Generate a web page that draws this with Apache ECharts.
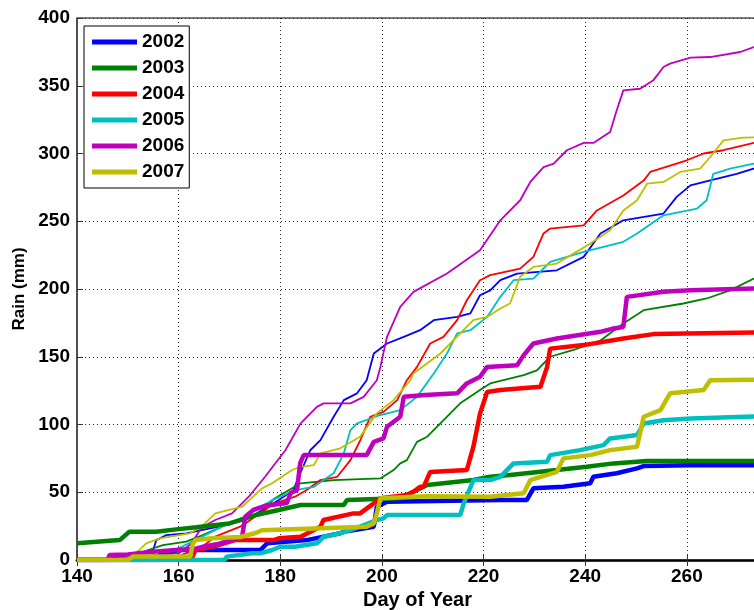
<!DOCTYPE html>
<html>
<head>
<meta charset="utf-8">
<script src="https://cdn.jsdelivr.net/npm/echarts@6/dist/echarts.min.js"></script>
<style>
html,body{margin:0;padding:0;background:#fff;}
#chart{width:754px;height:610px;}
</style>
</head>
<body>
<div id="chart"></div>
<script>
// ---- data: [day of year, cumulative rain (mm)] ----
const years = ['2002', '2003', '2004', '2005', '2006', '2007'];
const yearColors = ['#0000ff', '#008000', '#ff0000', '#00bfbf', '#bf00bf', '#bfbf00'];
const xTicks = [140, 160, 180, 200, 220, 240, 260];
const yTicks = [0, 50, 100, 150, 200, 250, 300, 350, 400];

const thin2002 = [[145,0],[152,5],[155,7.4],[155.6,14.7],[157.6,18.4],[161.5,19.7],[164.5,22],[167.9,24.6],[173.1,29.5],[177,38],[179.7,44.2],[182.6,51.6],[183.9,64],[185.9,81],[187.9,88.5],[190.5,105.7],[192.5,118],[195.1,123],[197,132.7],[198.4,152.4],[201,159.8],[204.3,164.7],[207.5,169.6],[210.2,177],[214.8,179.4],[217.4,182],[219.3,195.4],[221.3,199],[223.3,206.5],[226.6,211.4],[234.4,213.8],[239.7,223.7],[243,241],[247.5,250.7],[255.4,255.7],[258,268],[260.7,276.5],[264.6,280.2],[269.8,285],[275,291]];
const thin2003 = [[150,0],[153,6.1],[156.9,11],[161.5,13.5],[164.5,18],[167,22],[169.8,27],[176.4,34.4],[178.7,45],[184,56.6],[190.5,59],[199.7,60.2],[202.3,66.4],[203.6,71.3],[204.9,73.7],[206.9,87.2],[208.9,91],[211.5,100.8],[215.4,115.6],[219.3,125.4],[221.3,130.3],[227.9,136.4],[230.5,140],[233.1,150],[237.7,155],[243,162],[247.5,174.6],[251.5,184.4],[259.3,189.3],[263.9,193],[268.5,199],[273.2,207.7],[275,210]];
const thin2004 = [[148,0],[160,3],[163.3,7.4],[164.6,9.8],[167.2,17.2],[172.1,24.6],[173.1,27],[176.1,34.6],[179,42],[182.9,46.7],[185.2,51.6],[187.9,59],[191.2,61.4],[193.8,73.7],[195.7,88],[197.7,105.7],[200.3,109.3],[203,118],[204.9,132.7],[206.9,142.5],[209.5,159.8],[212.1,164.7],[214.8,177],[216.7,191.7],[219.3,206.5],[221.3,210.2],[227.2,215],[229.8,223.7],[231.8,241],[233.1,244.6],[239.7,247],[242.3,258],[247.5,269],[251.5,280],[252.8,286.4],[260,295],[263.3,300],[267.2,302.4],[273.2,307.8],[275,309]];
const thin2005 = [[150,0],[158,5],[163.3,14.7],[168.5,24.6],[173.1,32],[178.4,44.2],[182.9,51.6],[186.6,54],[190.5,64],[192.5,78.7],[193.8,95.9],[195.1,100.8],[199.7,107],[203.6,110.6],[206.9,120.4],[210.2,137.7],[212.8,152.4],[214.8,167.2],[217.4,169.6],[220.7,179.4],[223.3,194.2],[225.9,206.5],[229.8,207.7],[233.1,220],[239.7,227.4],[247.5,234.8],[250.2,241],[255.4,254.4],[262,259.4],[263.9,265.5],[265.2,285],[268.5,288.8],[273.2,292.5],[275,293]];
const thin2006 = [[146,0],[150,2],[160,5],[162.5,12],[164.5,24],[167.2,29.5],[170.5,34.4],[173.8,46.7],[177,61.4],[181,81],[184,100.8],[187.2,113],[188.5,115.6],[193.8,115.6],[196.4,120.4],[199,132.7],[199.7,142.5],[201,164.7],[203.6,186.8],[206.2,197.9],[212.8,211.4],[219.3,228.6],[223.3,250.7],[227.2,265.5],[229.2,279],[231.8,290],[233.8,292.5],[236.4,302.4],[239.7,307.8],[241.6,307.8],[244.9,315.9],[246.2,331.9],[247.5,346.6],[250.8,347.8],[253.4,354],[255.4,363.8],[256.7,366.3],[260.7,370.7],[264.6,371.2],[270.5,374.9],[273.2,378.5],[275,380]];
const thin2007 = [[148,0],[149.7,1.2],[152.3,7.4],[153.6,12.3],[156.3,16],[162.2,19.7],[164.5,24.6],[167.2,34.4],[172.5,39.3],[176.4,52.9],[178.4,56.6],[182.3,66.4],[184,68.8],[186.6,70],[187.9,78.7],[191.8,82.4],[195.7,91],[199,108.2],[202.3,118],[205.6,132.7],[206.2,137.7],[211.5,152.4],[215.4,167.2],[218,177],[220.7,179.4],[223.3,185.6],[225.2,189.3],[227.2,209],[229.8,216.3],[234.4,218.8],[241,233.5],[244.9,243.4],[247.5,258],[250.2,265.5],[252.2,277.8],[255.4,279],[258.7,286.4],[262.6,288.8],[264.6,297.4],[267.2,309.7],[271.1,311.7],[275,312]];

const thick2002 = [[140,0],[156,0],[156.5,5],[160,7.4],[176.1,7.4],[177.4,12.3],[185.2,14.7],[191.8,19.7],[192.5,20.9],[198.4,24.6],[199,39.3],[201,43],[223.3,44.2],[228.5,44.2],[229.8,52.9],[235.7,54],[241,56.6],[241.6,61.4],[246.2,64],[250.2,67.6],[251.5,69.3],[260.7,70],[275,70]];
const thick2003 = [[140,12.3],[148.4,14.7],[150.3,20.9],[155.6,20.9],[159.5,22.6],[163.5,24.1],[170,27],[175,33],[179.7,36.9],[184,40.6],[192.5,40.6],[193.1,44.2],[203.6,45.5],[206.9,51.6],[208.9,55.3],[218,59],[221.3,61.4],[225.2,62.7],[234.4,66.4],[240.3,68.8],[245.6,71.3],[252.1,73],[275,73]];
const thick2004 = [[140,0],[162.5,0],[163.3,7.4],[167,10],[171.1,14.7],[178.7,14.7],[179.7,16],[184,17.2],[187.9,24.6],[188.5,29.5],[194.4,34.4],[195.7,34.4],[198.4,41.8],[199.7,45.5],[204.9,48],[206.2,50.4],[207.5,54],[208.2,54],[209.5,65],[216.7,66.4],[218,83.6],[219.3,108],[220.7,124],[223.3,125.4],[231.2,127.8],[232.5,142.5],[233.1,156],[239.7,158.6],[247.5,163.5],[253.4,166.7],[275,168]];
const thick2005 = [[140,0],[169,0],[169.5,2.5],[174.4,5],[176.1,5],[178.4,7.4],[180,9.8],[182.9,9.8],[187.2,12.3],[187.9,14.7],[188.5,17.2],[191.8,19.7],[195.7,24.6],[199,29.5],[200.3,30.7],[201,33.2],[215.4,33.2],[216.1,41.8],[218,59],[221.3,59],[223.3,61.4],[225.9,71.3],[232.5,72.5],[233.1,77.4],[239,81.1],[243.6,84.8],[244.9,89.7],[250.2,92.2],[251.5,100.8],[255.4,103.2],[260.7,104.5],[275,106]];
const thick2006 = [[140,0],[146,0],[146.4,3.7],[150,4],[155,6.1],[159.5,7.4],[163,8],[165,10],[168,12],[172.5,17.2],[173.1,32],[174.7,37],[177,40],[181.3,42],[182,49.2],[183.3,51.6],[183.9,71.3],[184.6,77.4],[197,77.4],[198.4,87.2],[200.3,89.7],[201,98.3],[203.6,105.7],[204.3,120.4],[208.5,121.7],[214.8,123],[216.7,130.3],[219.3,135.2],[220.7,142.5],[226.6,143.8],[227.9,151.2],[229.8,159.8],[234.4,163.5],[243,168.4],[245.6,170.9],[247.5,172],[248.2,194.2],[255.4,198],[260.7,199],[275,200.5]];
const thick2007 = [[140,0],[150,0],[151,2.5],[162.3,2.5],[162.8,12],[163.3,14.7],[166.6,16],[172.1,17],[175,19.7],[176.4,22],[197,24.6],[198.4,27],[199,34.4],[199.7,45.5],[208.5,47],[221.3,46.7],[227.9,49.2],[229.2,59],[234.4,65],[235.7,75],[241,77.4],[244.9,81.1],[250.2,83.6],[251.5,105.7],[254.8,110.6],[256.7,123],[263.3,125.4],[264.6,132.7],[275,133]];

const thinSets = [thin2002, thin2003, thin2004, thin2005, thin2006, thin2007];
const thickSets = [thick2002, thick2003, thick2004, thick2005, thick2006, thick2007];

const FONT = '"Liberation Sans", Arial, sans-serif';
const series = [];
thinSets.forEach((d, i) => series.push({
  name: years[i], type: 'line', data: d, showSymbol: false, symbol: 'none',
  color: yearColors[i], lineStyle: { width: 1.8, color: yearColors[i] }, z: 2
}));
thickSets.forEach((d, i) => series.push({
  name: years[i], type: 'line', data: d, showSymbol: false, symbol: 'none',
  color: yearColors[i], lineStyle: { width: 4.5, color: yearColors[i] }, z: 3
}));

const chart = echarts.init(document.getElementById('chart'), null, { renderer: 'canvas' });
chart.setOption({
  animation: false,
  backgroundColor: '#fff',
  grid: { left: 77, right: -4, top: 18, bottom: 50, outerBoundsMode: 'none', containLabel: false,
    show: true, borderColor: '#000', borderWidth: 1, backgroundColor: 'transparent' },
  legend: {
    data: years, left: 84, top: 26, orient: 'vertical', icon: 'rect',
    itemWidth: 45, itemHeight: 5, itemGap: 6,
    padding: [6, 5, 6, 8],
    backgroundColor: '#fff', borderColor: '#000', borderWidth: 1,
    textStyle: { fontFamily: FONT, fontWeight: 'bold', fontSize: 19, color: '#000', lineHeight: 20 }
  },
  xAxis: [{
    type: 'value', min: 140, max: 274, interval: 20,
    name: 'Day of Year', nameLocation: 'middle', nameGap: 30,
    nameTextStyle: { fontFamily: FONT, fontWeight: 'bold', fontSize: 20, color: '#000' },
    axisLine: { show: true, onZero: false, lineStyle: { color: '#333', width: 3 } },
    axisTick: { show: true, inside: true, length: 6, lineStyle: { color: '#333' } },
    axisLabel: { fontFamily: FONT, fontWeight: 'bold', fontSize: 19, color: '#000', margin: 7,
      formatter: v => xTicks.includes(v) ? String(v) : '' },
    splitLine: { show: true, lineStyle: { type: [1, 3], color: '#222', width: 1 } }
  }, {
    type: 'value', min: 140, max: 274, interval: 20, position: 'top',
    axisLine: { show: true, lineStyle: { color: '#000', width: 1 } },
    axisTick: { show: true, inside: true, length: 6, lineStyle: { color: '#333' } },
    axisLabel: { show: false }, splitLine: { show: false }
  }],
  yAxis: {
    type: 'value', min: 0, max: 400, interval: 50,
    name: 'Rain (mm)', nameLocation: 'middle', nameGap: 47, nameRotate: 90,
    nameTextStyle: { fontFamily: FONT, fontWeight: 'bold', fontSize: 17, color: '#000' },
    axisLine: { show: true, lineStyle: { color: '#444', width: 1.5 } },
    axisTick: { show: true, inside: true, length: 6, lineStyle: { color: '#333' } },
    axisLabel: { fontFamily: FONT, fontWeight: 'bold', fontSize: 19, color: '#000', margin: 7,
      formatter: v => yTicks.includes(v) ? String(v) : '' },
    splitLine: { show: true, lineStyle: { type: [1, 3], color: '#222', width: 1 } }
  },
  series: series
});
</script>
</body>
</html>
